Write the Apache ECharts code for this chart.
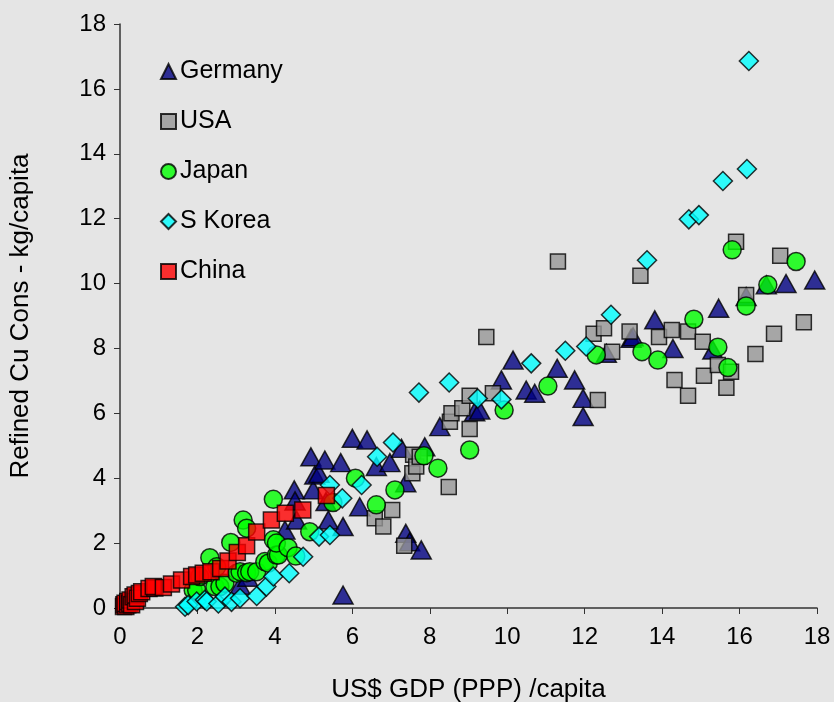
<!DOCTYPE html>
<html>
<head>
<meta charset="utf-8">
<script src="https://cdn.jsdelivr.net/npm/echarts@6/dist/echarts.min.js"></script>
<style>
html,body{margin:0;padding:0;background:#e5e5e5;}
#chart{width:834px;height:702px;}
</style>
</head>
<body>
<div id="chart"></div>
<script>
// Series names (legend order)
const seriesNames = ['Germany', 'USA', 'Japan', 'S Korea', 'China'];
// Axis ticks
const xTicks = [0, 2, 4, 6, 8, 10, 12, 14, 16, 18];
const yTicks = [0, 2, 4, 6, 8, 10, 12, 14, 16, 18];
const xTitle = 'US$ GDP (PPP) /capita';
const yTitle = 'Refined Cu Cons - kg/capita';

// [GDP per capita (k US$ PPP), refined Cu consumption kg/capita]
const germany = [
  [3.1,0.7],[3.3,0.95],[4.26,2.4],[4.5,3.64],[4.56,2.71],[4.52,3.3],[4.93,4.66],[4.99,3.64],
  [5.03,4.1],[5.14,4.15],[5.29,4.56],[5.32,3.28],[5.38,2.71],[5.70,4.48],[5.76,2.51],[5.76,0.40],
  [6.0,5.23],[6.19,3.12],[6.38,5.18],[6.62,4.36],[6.97,4.48],[7.27,4.92],[7.38,3.86],[7.38,2.30],
  [7.48,2.04],[7.78,1.79],[7.87,4.97],[8.26,5.59],[9.16,6.05],[9.29,6.1],[9.85,7.03],[10.15,7.64],
  [10.49,6.72],[10.71,6.62],[11.29,7.39],[11.74,7.03],[11.96,6.46],[11.96,5.90],[12.56,7.85],
  [13.2,8.31],[13.25,8.36],[13.81,8.88],[14.28,8.0],[15.31,7.95],[15.46,9.24],[16.17,9.6],
  [16.69,9.96],[17.2,10.0],[17.94,10.11]
];
const usa = [
  [6.58,2.77],[6.80,2.51],[7.03,3.02],[7.34,1.92],[7.55,4.15],[7.57,4.72],[7.65,4.36],[7.74,4.66],
  [8.49,3.73],[8.52,5.74],[8.56,6.0],[8.84,6.16],[9.03,6.54],[9.03,5.52],[9.46,8.35],[9.63,6.62],
  [11.31,10.68],[12.23,8.45],[12.34,6.41],[12.5,8.62],[12.71,7.9],[13.16,8.52],[13.44,10.24],
  [13.92,8.35],[14.25,8.57],[14.32,7.03],[14.67,8.52],[14.67,6.54],[15.05,8.21],[15.08,7.16],
  [15.44,7.49],[15.66,6.79],[15.78,7.28],[15.91,11.29],[16.17,9.65],[16.41,7.83],[16.89,8.45],
  [17.05,10.86],[17.66,8.81]
];
const japan = [
  [1.89,0.55],[1.98,0.55],[2.06,0.97],[2.45,0.66],[2.58,0.66],[2.32,1.55],[2.5,1.27],[2.71,0.76],
  [2.86,2.02],[3.01,1.07],[3.18,2.71],[3.27,2.46],[3.1,1.12],[3.27,1.09],[3.35,1.12],[3.53,1.12],
  [3.74,1.43],[3.83,1.38],[3.96,3.35],[3.96,2.10],[4.04,1.63],[4.09,1.63],[4.04,2.0],[4.34,1.86],
  [4.54,1.6],[4.9,2.35],[5.5,3.25],[6.08,4.0],[6.62,3.18],[7.1,3.64],[7.85,4.69],[8.21,4.31],
  [9.03,4.87],[9.92,6.10],[11.05,6.84],[12.3,7.8],[13.48,7.9],[13.89,7.64],[14.82,8.9],[15.44,8.04],
  [15.7,7.41],[15.81,11.04],[16.17,9.31],[16.73,9.96],[17.46,10.68]
];
const sKorea = [
  [1.68,0.04],[1.76,0.09],[1.98,0.2],[2.19,0.25],[2.24,0.2],[2.54,0.14],[2.71,0.35],[2.88,0.19],
  [3.1,0.3],[3.53,0.37],[3.78,0.66],[3.96,0.97],[4.37,1.07],[4.73,1.58],[5.14,2.2],[5.42,2.25],
  [5.74,3.38],[5.42,3.79],[6.24,3.79],[6.64,4.66],[7.05,5.1],[7.72,6.64],[8.5,6.95],[9.24,6.46],
  [9.85,6.43],[10.62,7.54],[11.5,7.93],[12.04,8.06],[12.68,9.04],[13.61,10.72],[14.69,11.98],
  [14.95,12.11],[15.57,13.16],[16.19,13.53],[16.24,16.86]
];
const china = [
  [0.09,0.05],[0.1,0.1],[0.15,0.05],[0.13,0.15],[0.2,0.1],[0.2,0.2],[0.25,0.15],[0.26,0.25],
  [0.3,0.1],[0.34,0.35],[0.4,0.2],[0.39,0.4],[0.45,0.3],[0.5,0.45],[0.56,0.5],[0.75,0.6],
  [0.9,0.62],[0.86,0.66],[1.12,0.63],[1.33,0.74],[1.59,0.86],[1.85,0.97],[1.98,1.02],[2.15,1.07],
  [2.35,1.12],[2.6,1.22],[2.79,1.45],[3.03,1.71],[3.27,1.92],[3.53,2.34],[3.91,2.71],[4.27,2.92],
  [4.72,3.02],[5.33,3.47]
];

const FONT = '"Liberation Sans", Arial, sans-serif';
const border = {borderColor:'#000', borderWidth:1.5};

const chart = echarts.init(document.getElementById('chart'));
chart.setOption({
  backgroundColor: '#e5e5e5',
  animation: false,
  textStyle: {fontFamily: FONT, color: '#000'},
  grid: {left: 120, right: 17, top: 24, bottom: 94, containLabel: false, outerBoundsMode: 'none'},
  legend: {
    orient: 'vertical', left: 155, top: 54,
    itemGap: 25, itemWidth: 15, itemHeight: 15,
    textStyle: {fontSize: 25, fontFamily: FONT, color: '#000', padding: [0,0,0,-1]},
    data: seriesNames
  },
  xAxis: {
    type: 'value', min: 0, max: 18, interval: 2,
    name: xTitle, nameLocation: 'middle', nameGap: 69,
    nameTextStyle: {fontSize: 26, fontFamily: FONT, color: '#000'},
    axisLine: {show: true, lineStyle: {color: '#333', width: 1.5}},
    axisTick: {show: true, length: 6, lineStyle: {color: '#333'}},
    axisLabel: {fontSize: 24, color: '#000', margin: 17, fontFamily: FONT,
      formatter: v => xTicks.includes(v) ? String(v) : ''},
    splitLine: {show: false}
  },
  yAxis: {
    type: 'value', min: 0, max: 18, interval: 2,
    name: yTitle, nameLocation: 'middle', nameGap: 86, nameRotate: 90,
    nameTextStyle: {fontSize: 26, fontFamily: FONT, color: '#000'},
    axisLine: {show: true, lineStyle: {color: '#333', width: 1.5}},
    axisTick: {show: true, length: 6, lineStyle: {color: '#333'}},
    axisLabel: {fontSize: 24, color: '#000', margin: 14, fontFamily: FONT,
      formatter: v => yTicks.includes(v) ? String(v) : ''},
    splitLine: {show: false}
  },
  series: [
    {name: 'Germany', type: 'scatter', symbol: 'triangle', symbolSize: [20,18],
     itemStyle: Object.assign({color: '#000080'}, border), data: germany},
    {name: 'USA', type: 'scatter', symbol: 'rect', symbolSize: 15,
     itemStyle: Object.assign({color: '#969696'}, border), data: usa},
    {name: 'Japan', type: 'scatter', symbol: 'circle', symbolSize: 18,
     itemStyle: Object.assign({color: '#00ff00'}, border), data: japan},
    {name: 'S Korea', type: 'scatter', symbol: 'diamond', symbolSize: 19,
     itemStyle: Object.assign({color: '#00ffff'}, border), data: sKorea},
    {name: 'China', type: 'scatter', symbol: 'rect', symbolSize: 16,
     itemStyle: Object.assign({color: '#ff0000'}, border), data: china}
  ]
});
</script>
</body>
</html>
